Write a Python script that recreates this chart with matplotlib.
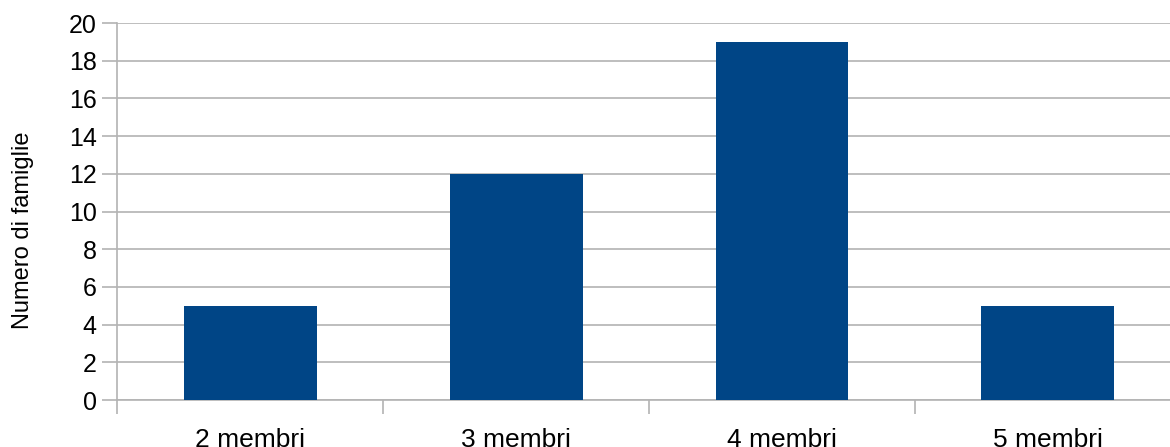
import matplotlib
matplotlib.use("Agg")
import matplotlib.pyplot as plt
import numpy as np

categories = ["2 membri", "3 membri", "4 membri", "5 membri"]
values = [5, 12, 19, 5]
yticks = [0, 2, 4, 6, 8, 10, 12, 14, 16, 18, 20]

plt.rcParams['font.family'] = ['Liberation Sans', 'DejaVu Sans']
grid_c = "#b3b3b3"

fig = plt.figure(figsize=(11.7, 4.47), dpi=100)
ax = fig.add_axes([0.1004, 0.1051, 0.9088, 0.8434])
x = np.arange(len(categories))
ax.bar(x, values, width=0.5, color="#004586", zorder=3)
ax.set_xlim(-0.5, len(categories) - 0.5)
ax.set_ylim(0, 20)
ax.set_yticks(yticks)
ax.set_yticklabels([str(v) for v in yticks], fontsize=18)
ax.yaxis.grid(True, color=grid_c, linewidth=1.2, zorder=0)
ax.set_axisbelow(True)

ax.set_xticks(np.arange(-0.5, len(categories), 1.0))
ax.set_xticklabels([])
ax.set_xticks(x, minor=True)
ax.set_xticklabels(categories, minor=True, fontsize=19)
ax.tick_params(axis='x', which='minor', length=0, pad=20)
ax.tick_params(axis='x', which='major', length=10, color=grid_c, width=1.2)
ax.tick_params(axis='y', length=11, color=grid_c, width=1.2, pad=4)

for s in ['top', 'right']:
    ax.spines[s].set_visible(False)
for s in ['left', 'bottom']:
    ax.spines[s].set_color(grid_c)
    ax.spines[s].set_linewidth(1.2)

fig.text(23 / 1170, 1 - 230 / 447, "Numero di famiglie", rotation=90,
         ha="center", va="center", fontsize=17)
fig.savefig("out.png", dpi=100)
